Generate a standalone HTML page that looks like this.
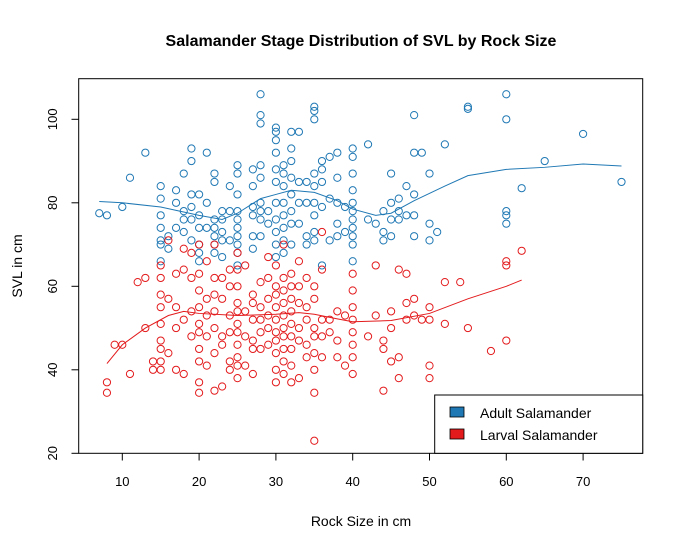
<!DOCTYPE html>
<html><head><meta charset="utf-8"><style>
body{margin:0;background:#fff;}
svg{display:block;font-family:"Liberation Sans",Arial,sans-serif;}
</style></head><body>
<svg id="chart" width="683" height="551" viewBox="0 0 683 551">
<rect width="683" height="551" fill="#fff"/>
<text x="361" y="46" text-anchor="middle" font-size="16" font-weight="bold">Salamander Stage Distribution of SVL by Rock Size</text>
<text x="361" y="526" text-anchor="middle" font-size="14">Rock Size in cm</text>
<text transform="translate(22,266) rotate(-90)" text-anchor="middle" font-size="14">SVL in cm</text>
<g id="axes"></g>
<g id="marks"></g>
<rect x="78.7" y="78.7" width="564" height="374.6" fill="none" stroke="#000" stroke-width="1"/>
<g>
<rect x="434.7" y="395" width="208" height="58.3" fill="#fff" stroke="#000"/>
<rect x="450" y="407" width="14" height="10" fill="#1F78B4" stroke="#000" stroke-width="0.8"/>
<text x="480" y="418" font-size="14">Adult Salamander</text>
<rect x="450" y="429" width="14" height="10" fill="#E31A1C" stroke="#000" stroke-width="0.8"/>
<text x="480" y="440" font-size="14">Larval Salamander</text>
</g>
</svg>
<script>
const xTicks=[10,20,30,40,50,60,70];
const yTicks=[20,40,60,80,100];
const adultX=[7,8,10,11,13,15,15,15,15,15,15,15,16,16,17,17,17,18,18,18,18,19,19,19,19,19,19,20,20,20,20,20,20,21,21,21,22,22,22,22,22,22,22,23,23,23,23,23,24,24,24,25,25,25,25,25,25,25,25,25,25,27,27,27,27,27,27,28,28,28,28,28,28,28,28,28,29,29,30,30,30,30,30,30,30,30,30,30,30,31,31,31,31,31,31,31,31,32,32,32,32,32,32,32,32,33,33,33,33,34,34,34,34,35,35,35,35,35,35,35,35,35,36,36,36,36,36,37,37,37,38,38,38,38,38,39,39,40,40,40,40,40,40,40,40,40,40,40,42,42,43,44,44,44,45,45,45,45,46,46,46,47,47,48,48,48,48,48,49,50,50,50,51,52,55,55,60,60,60,60,60,62,65,70,75];
const adultY=[77.5,77,79,86,92,84,81,77,74,71,70,66,72,69,80,83,74,87,78,76,73,93,90,82,79,76,71,82,77,74,70,68,66,92,80,74,87,85,76,74,72,70,68,78,76,73,71,67,84,78,71,89,87,82,78,76,74,72,70,68,65,88,84,79,77,72,69,106,101,99,89,86,80,78,76,72,78,75,98,97,95,92,88,85,80,76,73,70,67,89,87,84,80,77,74,71,68,97,93,90,86,82,78,75,70,97,85,80,75,85,80,72,70,103,102,100,87,84,80,77,73,71,90,88,85,79,65,91,81,71,92,86,80,75,72,79,73,93,91,87,83,80,78,76,74,72,70,66,94,76,75,78,73,71,87,80,76,72,81,78,76,84,77,101,92,82,77,72,92,87,75,71,73,94,103,102.5,106,100,78,77,75,83.5,90,96.5,85];
const larvalX=[8,8,9,10,11,12,13,13,14,14,15,15,15,15,15,15,15,15,15,16,16,16,17,17,17,17,18,18,18,18,19,19,19,19,20,20,20,20,20,20,20,20,20,20,21,21,21,21,21,22,22,22,22,22,22,22,23,23,23,23,23,24,24,24,24,24,24,25,25,25,25,25,25,25,25,25,25,25,26,26,26,26,27,27,27,27,27,27,28,28,28,28,28,29,29,29,29,29,29,30,30,30,30,30,30,30,30,30,30,31,31,31,31,31,31,31,31,31,31,32,32,32,32,32,32,32,32,32,33,33,33,33,33,33,34,34,34,34,34,35,35,35,35,35,35,35,35,36,36,36,36,36,37,37,38,38,38,39,39,40,40,40,40,40,40,40,40,42,43,43,44,44,44,45,45,45,46,46,46,47,47,47,48,48,49,50,50,50,50,52,52,54,55,58,60,60,60,62];
const larvalY=[37,34.5,46,46,39,61,50,62,42,40,65,62,58,55,51,47,45,42,40,71,57,44,63,55,50,40,69,64,52,39,68,62,54,48,70,63,59,55,51,49,45,42,37,34.5,66,57,53,48,41,70,62,58,54,50,44,35,62,57,48,46,36,64,60,53,49,42,40,68,64,60,56,54,51,49,46,43,41,38,65,54,48,41,58,56,52,47,45,39,61,55,52,49,45,67,62,57,53,50,46,65,60,58,55,52,49,47,44,40,37,70,62,59,56,53,50,48,45,42,39,63,60,57,54,51,48,45,41,37,66,60,56,50,47,38,62,55,52,46,43,60,57,50,48,44,40,34.5,23,73,64,52,48,43,52,49,54,47,43,53,41,63,59,55,52,49,46,43,39,48,53,65,47,45,35,54,50,42,64,43,38,56,52,63,57,53,52,55,52,41,38,61,51,61,50,44.5,66,65,47,68.5];
const adultFitX=[7,10,15,20,23,25,28,30,32,35,38,40,43,45,48,52,55,60,65,70,75];
const adultFitY=[80.3,80,79,77,76,77.5,81,82,83,82.5,80.5,78.5,77,77.5,80.5,84,86.5,88,88.5,89.3,88.8];
const larvalFitX=[8,10,13,16,18,20,25,30,33,35,38,40,45,50,55,60,62];
const larvalFitY=[41.5,46,50,53,54,53.5,53,53.3,53.7,53.3,52.2,51.5,51.8,53.5,57,60,61.5];
const NS='http://www.w3.org/2000/svg';
const xs=v=>122.3+(v-10)*7.68;
const ys=v=>453.3-(v-20)*4.175;
const axes=document.getElementById('axes');
const marks=document.getElementById('marks');
function mk(tag,attrs,parent){const e=document.createElementNS(NS,tag);for(const k in attrs)e.setAttribute(k,attrs[k]);parent.appendChild(e);return e;}
xTicks.forEach(t=>{
 const l=mk('line',{x1:xs(t),x2:xs(t),y1:453.3,y2:460.5,stroke:'#000'},axes);
 
 
 const tx=mk('text',{x:xs(t),y:486,'text-anchor':'middle','font-size':'13'},axes);
 tx.textContent=t;
 
 
});
yTicks.forEach(t=>{
 const l=mk('line',{x1:71.5,x2:78.7,y1:ys(t),y2:ys(t),stroke:'#000'},axes);
 
 
 const tx=mk('text',{transform:`translate(57,${ys(t)}) rotate(-90)`,'text-anchor':'middle','font-size':'13'},axes);
 tx.textContent=t;
 
 
});
function pts(X,Y,col,name){
 X.forEach((x,i)=>{
  const c=mk('circle',{cx:xs(x),cy:ys(Y[i]),r:3.6,fill:'none',stroke:col,'stroke-width':1},marks);
  
  
 });
}
function line(X,Y,col,name){
 const p=mk('polyline',{points:X.map((x,i)=>xs(x)+','+ys(Y[i])).join(' '),fill:'none',stroke:col,'stroke-width':1},marks);
 
 
}
pts(adultX,adultY,'#1F78B4','adult-point');
pts(larvalX,larvalY,'#E31A1C','larval-point');
line(adultFitX,adultFitY,'#1F78B4','adult-trend-line');
line(larvalFitX,larvalFitY,'#E31A1C','larval-trend-line');
</script>
</body></html>
